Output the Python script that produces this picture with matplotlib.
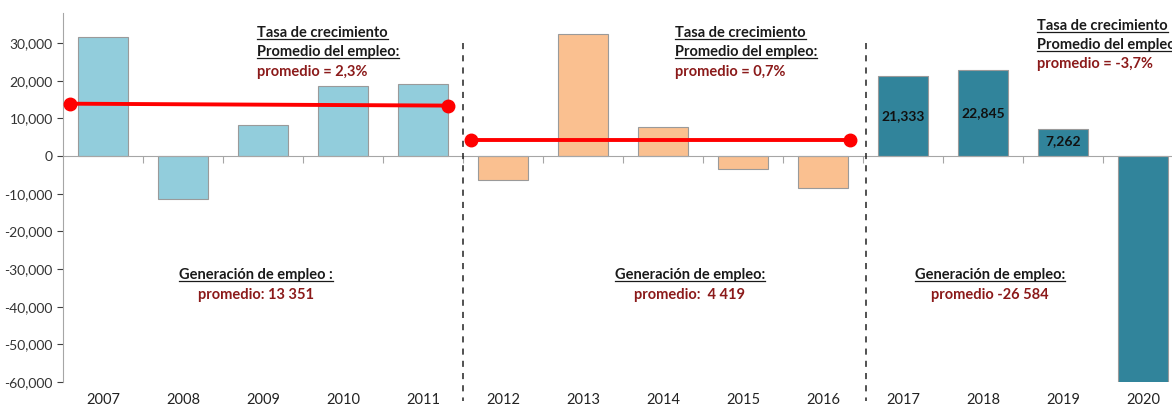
import numpy as np
import matplotlib.pyplot as plt
from matplotlib.ticker import FuncFormatter
import matplotlib.transforms as mtransforms

plt.rcParams['font.family'] = ['Lato', 'DejaVu Sans']

# datos
years = ['2007', '2008', '2009', '2010', '2011', '2012', '2013',
         '2014', '2015', '2016', '2017', '2018', '2019', '2020']
empleo = [31700, -11500, 8300, 18700, 19200, -6400, 32500,
          7700, -3500, -8500, 21333, 22845, 7262, -157776]
colores = ['#92CDDC'] * 5 + ['#FAC090'] * 5 + ['#31849B'] * 4
etiquetas = {10: '21,333', 11: '22,845', 12: '7,262'}

# lineas de tasa de crecimiento (inicio, fin)
tasa1_x = [-0.41, 4.31]
tasa1_y = [13900, 13400]
tasa2_x = [4.6, 9.33]
tasa2_y = [4200, 4200]

rojo_osc = '#8B1A1A'

fig = plt.figure(figsize=(11.72, 4.07), dpi=100)
ax = fig.add_axes([0.0538, 0.0614, 0.9462, 0.9068])

x = np.arange(len(years))
ax.bar(x, empleo, width=0.62, color=colores, edgecolor='#9A9A9A', linewidth=0.8, zorder=2)

for i, t in etiquetas.items():
    ax.text(i, empleo[i] / 2 if i != 12 else 4000, t, ha='center', va='center',
            fontsize=10, fontweight='bold', color='#111111', zorder=4)

ax.plot(tasa1_x, tasa1_y, color='#FF0000', lw=2.8, marker='o', ms=9, zorder=5)
ax.plot(tasa2_x, tasa2_y, color='#FF0000', lw=2.8, marker='o', ms=9, zorder=5)

for xv in [4.5, 9.54]:
    ax.plot([xv, xv], [30000, -65000], ls=(0, (4, 4)), color='#222222', lw=1.1,
            clip_on=False, zorder=3)

ax.set_xlim(-0.5, 13.36)
ax.set_ylim(-60000, 38000)
ax.set_yticks(np.arange(-60000, 30001, 10000))
ax.yaxis.set_major_formatter(FuncFormatter(lambda v, p: f'{int(v):,}'))
ax.tick_params(axis='y', labelsize=10, colors='#404040', length=4, width=0.8)
for lab in ax.get_yticklabels():
    lab.set_color('#333333')

ax.spines['top'].set_visible(False)
ax.spines['right'].set_visible(False)
ax.spines['left'].set_color('#A6A6A6')
ax.spines['bottom'].set_position(('data', 0))
ax.spines['bottom'].set_color('#A6A6A6')
ax.set_xticks(x[:-1] + 0.5)
ax.set_xticklabels([])
ax.tick_params(axis='x', length=5, direction='out', color='#A6A6A6')

trans = mtransforms.blended_transform_factory(ax.transData, ax.transAxes)
for i, y in enumerate(years):
    ax.text(i, -0.048, y, transform=trans, ha='center', va='center',
            fontsize=10.5, color='#222222', clip_on=False)

def px(xp, yp):
    return xp / 1172, 1 - yp / 407

textos = []
def bloque(xp, ys, lineas, ha='left'):
    for j, (t, rayado) in enumerate(lineas):
        fx, fy = px(xp, ys[j])
        col = '#1A1A1A' if rayado else rojo_osc
        tx = fig.text(fx, fy, t, ha=ha, va='center', fontsize=10.5,
                      fontweight='bold', color=col)
        if rayado:
            textos.append(tx)

bloque(257, [33, 52, 72], [('Tasa de crecimiento', True),
                            ('Promedio del empleo:', True),
                            ('promedio = 2,3%', False)])
bloque(675, [33, 52, 72], [('Tasa de crecimiento', True),
                            ('Promedio del empleo:', True),
                            ('promedio = 0,7%', False)])
bloque(1037, [26, 45, 64], [('Tasa de crecimiento', True),
                             ('Promedio del empleo:', True),
                             ('promedio = -3,7%', False)])

bloque(256, [275, 295], [('Generación de empleo :', True),
                         ('promedio: 13 351', False)], ha='center')
bloque(690, [275, 295], [('Generación de empleo:', True),
                         ('promedio:  4 419', False)], ha='center')
bloque(990, [275, 295], [('Generación de empleo:', True),
                         ('promedio -26 584', False)], ha='center')

# subrayado
fig.canvas.draw()
r = fig.canvas.get_renderer()
inv = fig.transFigure.inverted()
for tx in textos:
    bb = tx.get_window_extent(renderer=r)
    (x0, y0), (x1, _) = inv.transform([(bb.x0, bb.y0 + 1.5), (bb.x1, bb.y0)])
    fig.add_artist(plt.Line2D([x0, x1], [y0, y0], color='#1A1A1A', lw=0.9,
                              transform=fig.transFigure))

fig.savefig('out.png', dpi=100)
